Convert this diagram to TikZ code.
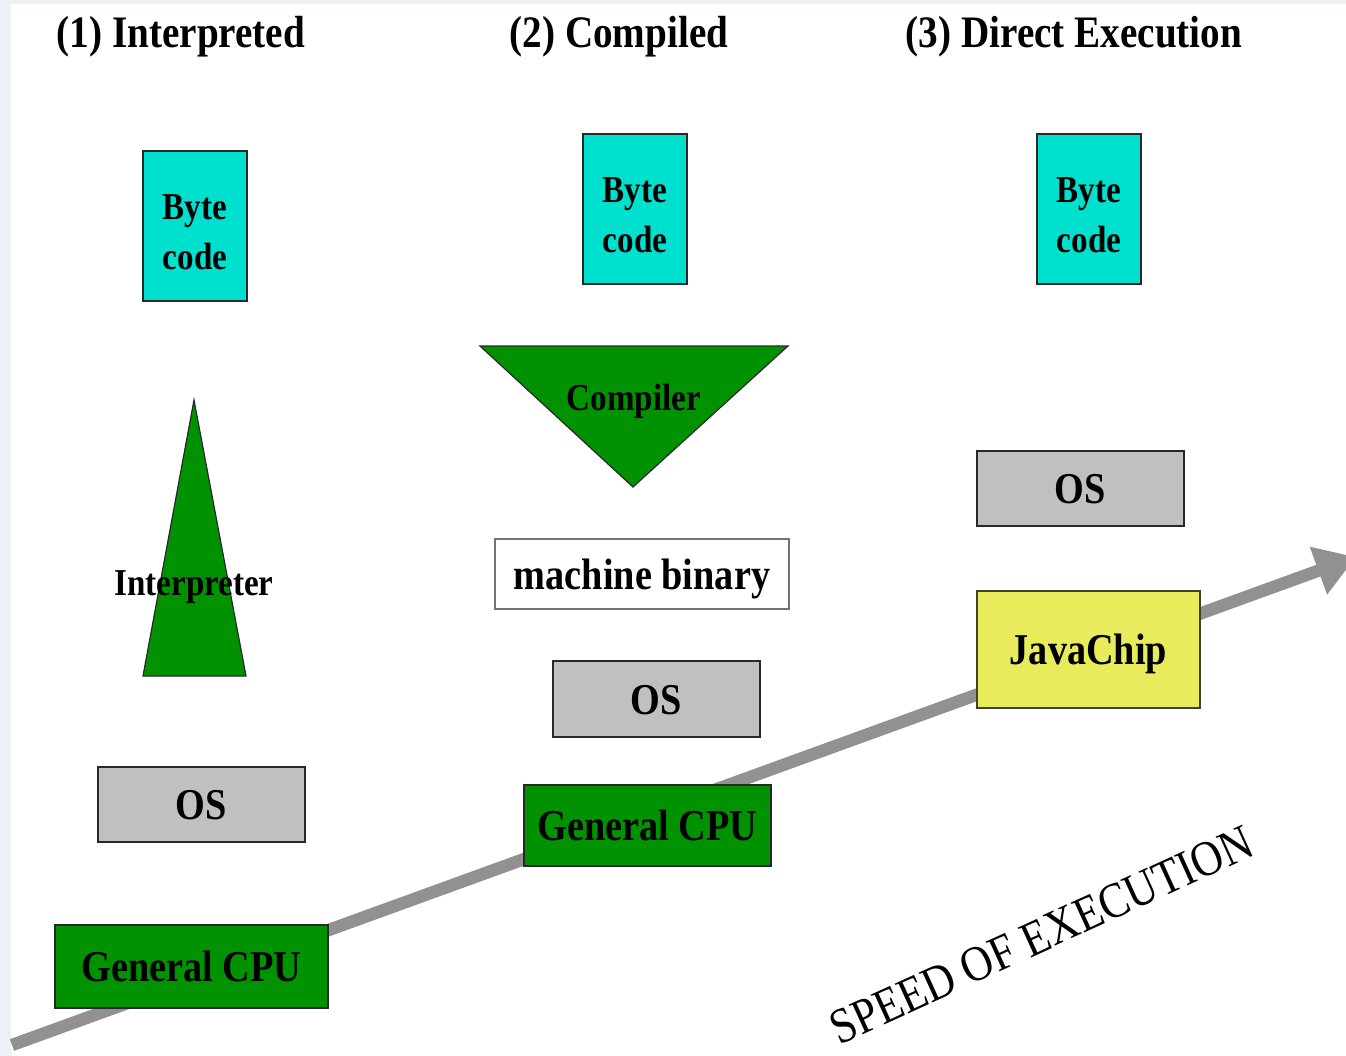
\documentclass[tikz,border=0pt]{standalone}
\usepackage{fontspec}
\setmainfont{Liberation Serif}
\newfontfamily\labfont[FakeStretch=0.87]{Liberation Serif}
\usetikzlibrary{arrows.meta}

\definecolor{bytecyan}{RGB}{0,224,206}
\definecolor{cpugreen}{RGB}{0,146,0}
\definecolor{osgray}{RGB}{192,192,192}
\definecolor{chipyellow}{RGB}{232,236,92}
\definecolor{arrowgray}{RGB}{145,145,145}
\definecolor{edgehaze}{RGB}{236,240,247}
\definecolor{boxline}{RGB}{40,40,40}

\tikzset{
  layer/.style={draw=boxline, line width=0.8pt, inner sep=0pt, align=center,
                text height=15pt, text depth=0pt,
                font=\labfont\bfseries\fontsize{22}{26}\selectfont},
  bytebox/.style={layer, fill=bytecyan, minimum width=52pt, minimum height=75pt,
                  text height=43pt, text depth=0pt,
                  font=\labfont\bfseries\fontsize{19}{25}\selectfont},
  osbox/.style={layer, fill=osgray, minimum width=103.5pt, minimum height=37.5pt},
  cpubox/.style={layer, fill=cpugreen},
  binbox/.style={layer, fill=white, draw=gray!90!black},
  chipbox/.style={layer, fill=chipyellow, draw=black!70!olive},
  stage/.style={draw=boxline, line width=0.6pt, fill=cpugreen},
  stagelabel/.style={inner sep=0pt, text height=12.5pt, text depth=0pt,
                     font=\labfont\bfseries\fontsize{19}{23}\selectfont},
  heading/.style={inner sep=0pt, anchor=base, font=\labfont\bfseries\fontsize{22.5}{27}\selectfont},
  speedtext/.style={inner sep=0pt, anchor=base, rotate=24.5, font=\labfont\fontsize{25}{30}\selectfont},
  speed/.style={line width=6.2pt, draw=arrowgray, -{Triangle[length=20pt,width=24pt]}}
}

\begin{document}
\begin{tikzpicture}[x=0.5pt, y=-0.5pt]
\useasboundingbox (0,0) rectangle (1346,1056);
\clip (0,0) rectangle (1346,1056);

% faint slide background at the edges
\fill[edgehaze] (0,0) rectangle (11,1056);
\fill[edgehaze] (0,0) rectangle (1346,4);

% speed-of-execution axis, drawn beneath the layers
\coordinate (axisstart) at (12,1045);
\coordinate (axisend) at (1356,557);
\draw[speed] (axisstart) -- (axisend);
\node[speedtext] (speedlabel) at (1048,950) {SPEED OF EXECUTION};

% column headings
\node[heading] (h1) at (181,47) {(1) Interpreted};
\node[heading] (h2) at (619,47) {(2) Compiled};
\node[heading] (h3) at (1074,47) {(3) Direct Execution};

% (1) interpreted
\node[bytebox] (byte1) at (195,226) {Byte\\code};
\draw[stage] (194,400) -- (246,676) -- (143,676) -- cycle;
\node[stagelabel] (interp) at (194,583) {Interpreter};
\node[osbox] (os1) at (201.5,804.5) {OS};
\node[cpubox, minimum width=136.5pt, minimum height=41.5pt] (cpu1) at (191.5,966.5) {General CPU};

% (2) compiled
\node[bytebox] (byte2) at (635,209) {Byte\\code};
\draw[stage] (480,346) -- (788,346) -- (633,487) -- cycle;
\node[stagelabel] (comp) at (634,398) {Compiler};
\node[binbox, minimum width=147pt, minimum height=35pt] (bin) at (642,574) {machine binary};
\node[osbox, minimum height=38pt] (os2) at (656.5,699) {OS};
\node[cpubox, minimum width=123.5pt, minimum height=40.5pt] (cpu2) at (647.5,825.5) {General CPU};

% (3) direct execution
\node[bytebox] (byte3) at (1089,209) {Byte\\code};
\node[osbox] (os3) at (1080.5,488.5) {OS};
\node[chipbox, minimum width=111.5pt, minimum height=58.5pt] (chip) at (1088.5,649.5) {JavaChip};
\end{tikzpicture}
\end{document}
